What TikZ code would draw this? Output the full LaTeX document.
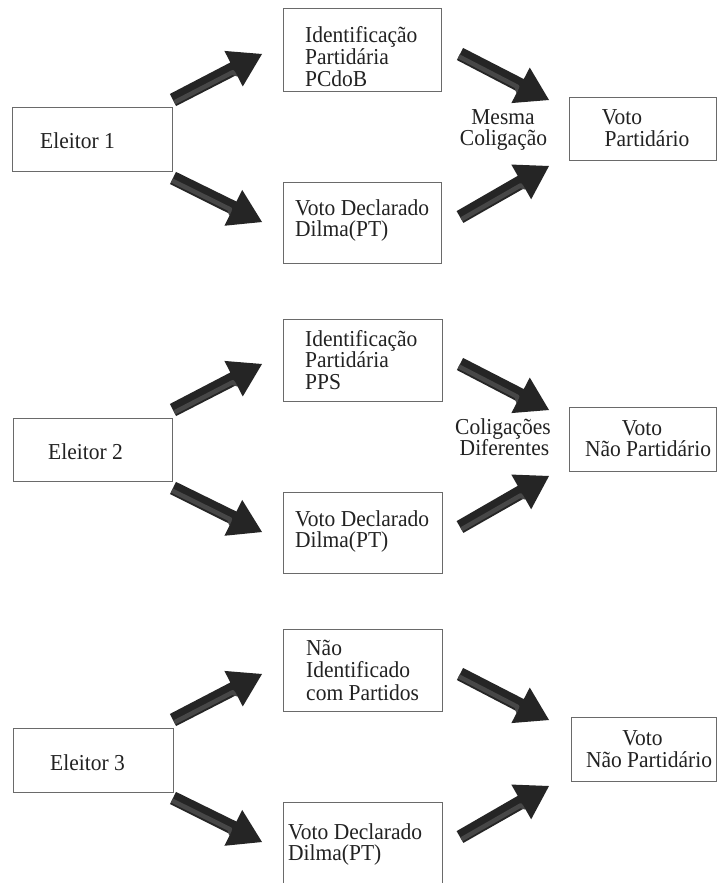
\documentclass[tikz,border=0pt]{standalone}
\usepackage{fontspec}
\usepackage{graphicx}
\setmainfont{Liberation Serif}
\usetikzlibrary{calc}
\definecolor{txt}{HTML}{222222}
\definecolor{boxline}{HTML}{6A6A6A}
\definecolor{arrdark}{HTML}{252525}
\definecolor{arrlight}{HTML}{474747}
\newcommand{\blockarrow}[2]{%
  \coordinate (#1-b) at ($(#2)!32pt!(#1)$);
  \coordinate (#1-c) at ($(#2)!36pt!(#1)$);
  \fill[arrdark] ($(#1)!6.8pt!90:(#2)$) -- ($(#1-b)!7pt!90:(#2)$) -- ($(#1-b)!20pt!90:(#2)$) -- (#2)
    -- ($(#1-b)!20pt!-90:(#2)$) -- ($(#1-b)!7pt!-90:(#2)$) -- ($(#1)!6.8pt!-90:(#2)$) -- cycle;
  \fill[arrlight] ($(#1)!0.5pt!-90:(#2)$) -- ($(#1-c)!0.5pt!-90:(#2)$)
    .. controls ($(#1-b)!0.5pt!-90:(#2)$) .. ($(#1-b)!9pt!-90:(#2)$)
    -- ($(#1-c)!5pt!-90:(#2)$) -- ($(#1)!5pt!-90:(#2)$) -- cycle;
}
\newcommand{\tx}[1]{\scalebox{1}[1.06]{#1}}
\tikzset{
  box/.style={draw=boxline, line width=1.2pt, inner sep=0pt, anchor=north west},
  lbl/.style={text=txt, inner sep=0pt, font=\fontsize{21.5}{21.5}\selectfont},
}
\begin{document}
\begin{tikzpicture}[x=1pt,y=-1pt]
\useasboundingbox (0,0) rectangle (717,883);
\clip (0,0) rectangle (717,883);
\fill[white] (0,0) rectangle (717,883);

% ---------- boxes ----------
\node[box, minimum width=160pt, minimum height=64pt] (e1) at (12,107) {};
\node[box, minimum width=158pt, minimum height=83pt] (i1) at (283,8) {};
\node[box, minimum width=158pt, minimum height=81pt] (d1) at (283,182) {};
\node[box, minimum width=147pt, minimum height=63pt] (v1) at (569,97) {};

\node[box, minimum width=159pt, minimum height=63pt] (e2) at (13,418) {};
\node[box, minimum width=159pt, minimum height=82pt] (i2) at (283,319) {};
\node[box, minimum width=159pt, minimum height=81pt] (d2) at (283,492) {};
\node[box, minimum width=147pt, minimum height=64pt] (v2) at (569,407) {};

\node[box, minimum width=160pt, minimum height=64pt] (e3) at (13,728) {};
\node[box, minimum width=159pt, minimum height=82pt] (i3) at (283,629) {};
\node[box, minimum width=159pt, minimum height=95pt] (d3) at (283,802) {};
\node[box, minimum width=145pt, minimum height=64pt] (v3) at (571,717) {};

% ---------- texts ----------
\node[lbl, anchor=base west] (e1t) at (40,148) {\tx{Eleitor 1}};
\node[lbl, anchor=base west] (i1a) at (305,43) {\tx{Identificação}};
\node[lbl, anchor=base west] (i1b) at (305,65) {\tx{Partidária}};
\node[lbl, anchor=base west] (i1c) at (305,86) {\tx{PCdoB}};
\node[lbl, anchor=base west] (d1a) at (295,215.5) {\tx{Voto Declarado}};
\node[lbl, anchor=base west] (d1b) at (295,236.5) {\tx{Dilma(PT)}};
\node[lbl, anchor=base] (v1a) at (622,124) {\tx{Voto}};
\node[lbl, anchor=base] (v1b) at (647,146.5) {\tx{Partidário}};
\node[lbl, anchor=base] (m1a) at (503,124) {\tx{Mesma}};
\node[lbl, anchor=base] (m1b) at (503.5,145.5) {\tx{Coligação}};

\node[lbl, anchor=base west] (e2t) at (48,459) {\tx{Eleitor 2}};
\node[lbl, anchor=base west] (i2a) at (305,346) {\tx{Identificação}};
\node[lbl, anchor=base west] (i2b) at (305,367.5) {\tx{Partidária}};
\node[lbl, anchor=base west] (i2c) at (305,389) {\tx{PPS}};
\node[lbl, anchor=base west] (d2a) at (295,526) {\tx{Voto Declarado}};
\node[lbl, anchor=base west] (d2b) at (295,547) {\tx{Dilma(PT)}};
\node[lbl, anchor=base] (v2a) at (642,435) {\tx{Voto}};
\node[lbl, anchor=base] (v2b) at (648,456.5) {\tx{Não Partidário}};
\node[lbl, anchor=base] (m2a) at (503,434) {\tx{Coligações}};
\node[lbl, anchor=base] (m2b) at (504.5,455.5) {\tx{Diferentes}};

\node[lbl, anchor=base west] (e3t) at (50,770) {\tx{Eleitor 3}};
\node[lbl, anchor=base west] (i3a) at (306,655) {\tx{Não}};
\node[lbl, anchor=base west] (i3b) at (306,677.5) {\tx{Identificado}};
\node[lbl, anchor=base west] (i3c) at (306,700) {\tx{com Partidos}};
\node[lbl, anchor=base west] (d3a) at (288,839.5) {\tx{Voto Declarado}};
\node[lbl, anchor=base west] (d3b) at (288,860.5) {\tx{Dilma(PT)}};
\node[lbl, anchor=base] (v3a) at (642.5,745.7) {\tx{Voto}};
\node[lbl, anchor=base] (v3b) at (649,767.3) {\tx{Não Partidário}};

% ---------- arrows ----------
\foreach \s/\o in {1/0,2/310,3/620}{
  \coordinate (lu\s t) at (173,100+\o);
  \coordinate (lu\s h) at (262,54+\o);
  \coordinate (ld\s t) at (173,178+\o);
  \coordinate (ld\s h) at (262,222+\o);
  \coordinate (rd\s t) at (460,54+\o);
  \coordinate (rd\s h) at (549,100+\o);
  \coordinate (ru\s t) at (460,217+\o);
  \coordinate (ru\s h) at (549,166+\o);
  \blockarrow{lu\s t}{lu\s h}
  \blockarrow{ld\s t}{ld\s h}
  \blockarrow{rd\s t}{rd\s h}
  \blockarrow{ru\s t}{ru\s h}
}
\end{tikzpicture}
\end{document}
